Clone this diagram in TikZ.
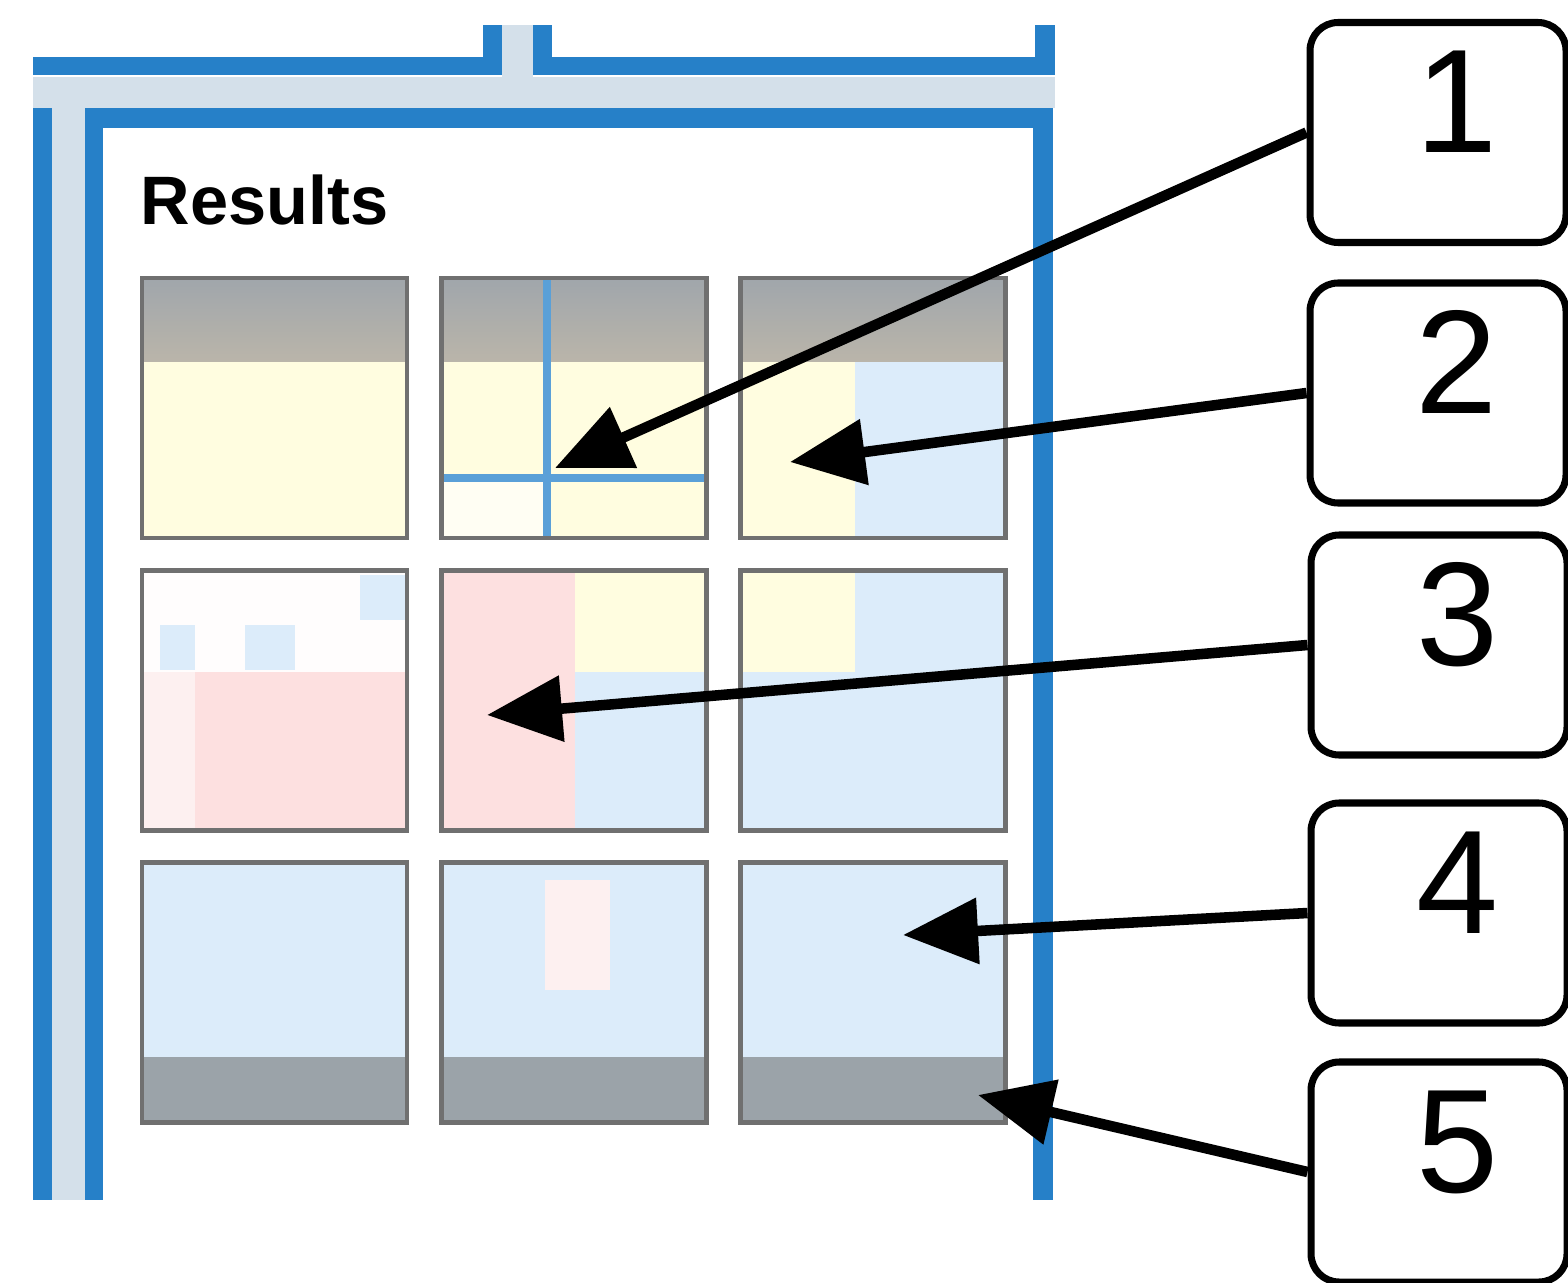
\documentclass[tikz,border=0pt]{standalone}
\usepackage{fontspec}
\setmainfont{Liberation Sans}
\setsansfont{Liberation Sans}
\usepackage{tikz}
\usetikzlibrary{arrows.meta,positioning,calc}
\definecolor{rsBlue}  {RGB}{ 38,128,200}
\definecolor{rsBand}  {RGB}{212,224,234}
\definecolor{rsTile}  {RGB}{112,112,112}
\definecolor{rsGrey}  {RGB}{160,166,171}
\definecolor{rsTan}   {RGB}{186,181,170}
\definecolor{rsBar}   {RGB}{155,163,169}
\definecolor{rsYellow}{RGB}{255,253,224}
\definecolor{rsSky}   {RGB}{220,236,250}
\definecolor{rsPink}  {RGB}{253,224,224}
\definecolor{rsPinkL} {RGB}{253,240,240}
\definecolor{rsLine}  {RGB}{ 90,160,216}

\begin{document}
\begin{tikzpicture}[
  every node/.style={font=\sffamily},
  >={Triangle[length=7.5mm,width=6.4mm]},
  rim/.style={fill=rsBlue},
  band/.style={fill=rsBand},
  tile/.style={draw=rsTile,line width=1.2pt,minimum width=2.65cm,minimum height=2.6cm,
               inner sep=0pt,outer sep=0pt},
  bar/.style={top color=rsGrey,bottom color=rsTan},
  numbox/.style={draw=black,line width=2pt,rounded corners=8pt,fill=white,
               minimum width=2.56cm,minimum height=2.2cm,
               font=\fontsize{42}{44}\selectfont,text height=1.06cm,text depth=0.65cm,
               execute at begin node=\hspace*{3.8mm}},
  pointer/.style={->,line width=3pt,black}
]
\useasboundingbox (0,0) rectangle (15.68,-12.82);
\fill[white] (0,0) rectangle (15.68,-12.82);

\fill[band] (0.33,-0.77) rectangle (10.55,-1.08);
\fill[band] (5.02,-0.25) rectangle (5.33,-0.77);
\fill[band] (0.52,-1.08) rectangle (0.85,-12.0);
\fill[rim] (0.33,-0.57) rectangle (5.02,-0.75);
\fill[rim] (4.83,-0.25) rectangle (5.02,-0.75);
\fill[rim] (5.33,-0.25) rectangle (5.52,-0.75);
\fill[rim] (5.33,-0.57) rectangle (10.55,-0.75);
\fill[rim] (10.35,-0.25) rectangle (10.55,-0.75);
\fill[rim] (0.85,-1.08) rectangle (10.53,-1.28);
\fill[rim] (0.33,-1.08) rectangle (0.52,-12.0);
\fill[rim] (0.85,-1.08) rectangle (1.03,-12.0);
\fill[rim] (10.33,-1.08) rectangle (10.53,-12.0);

\node[anchor=base west,inner sep=0pt,font=\sffamily\bfseries\fontsize{19.5}{21}\selectfont] (title) at (1.40,-2.25) {Results};

\node[tile,fill=rsYellow]       (T11) at (2.745,-4.08)  {};
\node[tile,fill=rsYellow]       (T12) at (5.74,-4.08)   {};
\node[tile,fill=rsYellow]       (T13) at (8.73,-4.08)   {};
\node[tile,fill=white!94!rsPink] (T21) at (2.745,-7.005) {};
\node[tile,fill=rsPink]         (T22) at (5.74,-7.005)  {};
\node[tile,fill=rsSky]          (T23) at (8.73,-7.005)  {};
\node[tile,fill=rsSky]          (T31) at (2.745,-9.925) {};
\node[tile,fill=rsSky]          (T32) at (5.74,-9.925)  {};
\node[tile,fill=rsSky]          (T33) at (8.73,-9.925)  {};

\shade[bar] (1.42,-2.78) rectangle (4.07,-3.62);
\shade[bar] (4.41,-2.78) rectangle (7.07,-3.62);
\shade[bar] (7.40,-2.78) rectangle (10.06,-3.62);
\fill[white!60!rsYellow] (4.41,-4.82) rectangle (5.47,-5.38);
\draw[rsLine,line width=2.3pt] (5.47,-2.78) -- (5.47,-5.38);
\draw[rsLine,line width=2.3pt] (4.41,-4.78) -- (7.07,-4.78);
\fill[rsSky] (8.55,-3.62) rectangle (10.06,-5.38);

\fill[rsSky] (1.60,-6.25) rectangle (1.95,-6.70);
\fill[rsSky] (2.45,-6.25) rectangle (2.95,-6.70);
\fill[rsSky] (3.60,-5.75) rectangle (4.07,-6.20);
\fill[rsPinkL] (1.42,-6.72) rectangle (1.95,-8.30);
\fill[rsPink] (1.95,-6.72) rectangle (4.07,-8.30);
\fill[rsYellow] (5.75,-5.71) rectangle (7.07,-6.72);
\fill[rsSky] (5.75,-6.72) rectangle (7.07,-8.30);
\fill[rsYellow] (7.40,-5.71) rectangle (8.55,-6.72);

\fill[rsPinkL] (5.45,-8.80) rectangle (6.10,-9.90);
\fill[rsBar] (1.42,-10.57) rectangle (4.07,-11.22);
\fill[rsBar] (4.41,-10.57) rectangle (7.07,-11.22);
\fill[rsBar] (7.40,-10.57) rectangle (10.06,-11.22);

\foreach \t in {T11,T12,T13,T21,T22,T23,T31,T32,T33}
  \draw[rsTile,line width=1.2pt] (\t.north west) rectangle (\t.south east);

\node[numbox] (C1) at (14.38,-1.325) {1};
\node[numbox] (C2) at (14.38,-3.93)  {2};
\node[numbox] (C3) at (14.39,-6.45)  {3};
\node[numbox] (C4) at (14.39,-9.13)  {4};
\node[numbox] (C5) at (14.39,-11.72) {5};

\coordinate (a1) at (5.55,-4.68);
\coordinate (a2) at (7.90,-4.62);
\coordinate (a3) at (4.87,-7.15);
\coordinate (a4) at (9.03,-9.35);
\coordinate (a5) at (9.78,-10.95);

\draw[pointer] (C1.west) -- (a1);
\draw[pointer] (C2.west) -- (a2);
\draw[pointer] (C3.west) -- (a3);
\draw[pointer] (C4.west) -- (a4);
\draw[pointer] (C5.west) -- (a5);
\end{tikzpicture}
\end{document}
